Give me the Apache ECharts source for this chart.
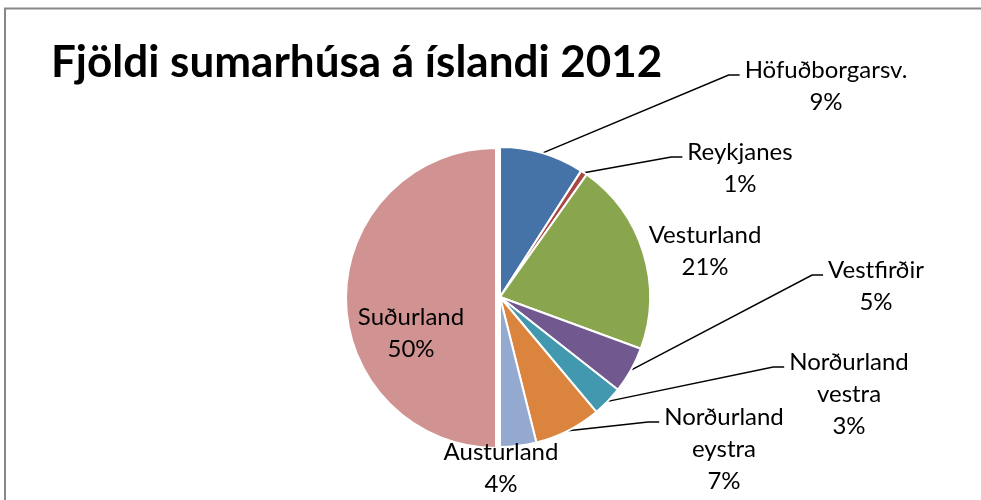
<!DOCTYPE html>
<html>
<head>
<meta charset="utf-8">
<script src="https://cdn.jsdelivr.net/npm/echarts@6/dist/echarts.min.js"></script>
<style>
  html, body { margin: 0; padding: 0; background: #fff; }
  #chart { width: 981px; height: 500px; }
</style>
</head>
<body>
<div id="chart"></div>
<script>
// ---- data ----
var titleText = 'Fjöldi sumarhúsa á íslandi 2012';
var regions = ['Höfuðborgarsv.', 'Reykjanes', 'Vesturland', 'Vestfirðir',
               'Norðurland\nvestra', 'Norðurland\neystra', 'Austurland', 'Suðurland'];
var shares = [9.1, 0.7, 20.8, 5.0, 3.3, 7.2, 3.9, 50.0];
var explodedRegion = 'Suðurland';

// ---- style ----
var sliceColors = ['#4572A7', '#AA4643', '#89A54E', '#71588F', '#4198AF', '#DB843D', '#93A9CF', '#D19392'];
// label block centre x and first-line centre y
var labelAnchors = [[826, 70], [740, 152], [705, 235], [876, 270], [849, 362], [724, 417], [501, 452], [411, 317]];
var showLeader = [true, true, false, true, true, true, false, false];
var LINE_H = 32;

var chart = echarts.init(document.getElementById('chart'), null, { renderer: 'canvas' });

function buildData(forExploded) {
  return regions.map(function (name, i) {
    var visible = (name === explodedRegion) === forExploded;
    return {
      name: name,
      value: shares[i],
      itemStyle: visible ? { color: sliceColors[i] } : { color: 'rgba(0,0,0,0)', borderWidth: 0 },
      label: { show: visible },
      labelLine: { show: visible && showLeader[i] }
    };
  });
}

var labelStyle = {
  show: true,
  position: 'outside',
  fontFamily: 'Lato',
  fontSize: 24,
  color: '#000',
  lineHeight: LINE_H,
  align: 'center',
  formatter: function (p) { return p.name + '\n' + Math.round(p.percent) + '%'; }
};

function layoutLabel(p) {
  var a = labelAnchors[p.dataIndex];
  var w = p.labelRect.width;
  var res = { x: a[0], y: a[1] - LINE_H / 2, align: 'center', verticalAlign: 'top' };
  if (showLeader[p.dataIndex] && p.labelLinePoints) {
    var left = a[0] - w / 2 - 5;
    var ly = a[1] + 5;
    res.labelLinePoints = [p.labelLinePoints[0], [left - 11, ly], [left, ly]];
  }
  return res;
}

function pieSeries(center, forExploded) {
  return {
    type: 'pie',
    center: center,
    radius: [0, 150],
    startAngle: 90,
    clockwise: true,
    avoidLabelOverlap: false,
    silent: true,
    emphasis: { disabled: true },
    itemStyle: { borderColor: '#fff', borderWidth: 2 },
    label: labelStyle,
    labelLine: { show: true, lineStyle: { color: '#000', width: 1.5 } },
    labelLayout: layoutLabel,
    data: buildData(forExploded)
  };
}

chart.setOption({
  animation: false,
  backgroundColor: '#fff',
  graphic: [{
    type: 'polyline',
    shape: { points: [[5, 520], [5, 8.5], [981, 8.5]] },
    style: { fill: null, stroke: '#888888', lineWidth: 2 },
    silent: true
  }],
  title: {
    text: titleText,
    left: 46,
    top: 36,
    textStyle: { fontFamily: 'Lato', fontWeight: 'bold', fontSize: 44, color: '#000' }
  },
  series: [
    pieSeries([500, 297], false),
    pieSeries([496, 298], true)
  ]
});
</script>
</body>
</html>
